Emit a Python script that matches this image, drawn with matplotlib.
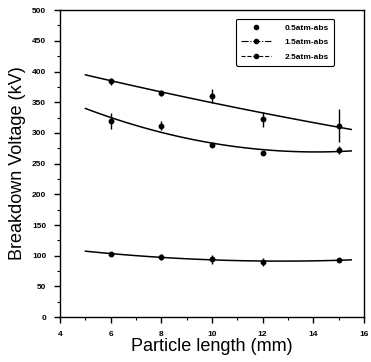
import matplotlib
matplotlib.use("Agg")
import matplotlib.pyplot as plt
import numpy as np
from matplotlib.lines import Line2D

plt.rcParams['font.family'] = ['Liberation Sans', 'DejaVu Sans']

length_mm = [6, 8, 10, 12, 15]
v_05 = [103, 98, 94, 90, 93]
e_05 = [3, 5, 7, 7, 3]
v_15 = [320, 312, 280, 268, 272]
e_15 = [13, 7, 3, 3, 7]
v_25 = [384, 365, 360, 322, 312]
e_25 = [6, 5, 12, 12, 27]
labels = ["0.5atm-abs", "1.5atm-abs", "2.5atm-abs"]

fig = plt.figure(figsize=(3.71, 3.62), dpi=100)
ax = fig.add_axes([0.162, 0.124, 0.819, 0.848])

x = np.array(length_mm, dtype=float)
xfit = np.linspace(5, 15.5, 100)
for vals, errs in [(v_05, e_05), (v_15, e_15), (v_25, e_25)]:
    ax.errorbar(x, vals, yerr=errs, fmt='o', color='black', ms=3.2,
                elinewidth=1.0, capsize=0)
    coef = np.polyfit(x, vals, 2)
    ax.plot(xfit, np.polyval(coef, xfit), color='black', lw=1.1)

ax.set_xlim(4, 16)
ax.set_ylim(0, 500)
ax.set_xticks(np.arange(4, 17, 2))
ax.set_xticks(np.arange(5, 16, 2), minor=True)
ax.set_yticks(np.arange(0, 501, 50))
ax.set_yticks(np.arange(25, 500, 50), minor=True)
ax.tick_params(which='major', direction='out', length=4, width=1.0,
               labelsize=6, pad=6)
ax.tick_params(which='minor', direction='out', length=2.5, width=0.8)
for lab in ax.get_xticklabels() + ax.get_yticklabels():
    lab.set_fontweight('bold')
for s in ax.spines.values():
    s.set_linewidth(1.0)

ax.set_xlabel("Particle length (mm)", fontsize=13, labelpad=0)
ax.set_ylabel("Breakdown Voltage (kV)", fontsize=13, labelpad=4)

handles = [
    Line2D([], [], color='black', marker='o', ms=3, ls='none'),
    Line2D([], [], color='black', marker='o', ms=3, ls='-.', lw=0.8),
    Line2D([], [], color='black', marker='o', ms=3, ls='--', lw=0.8),
]
leg = ax.legend(handles, labels, loc='upper right',
                bbox_to_anchor=(0.9, 0.972),
                prop={'weight': 'bold', 'size': 6},
                handlelength=3.6, handletextpad=1.6, labelspacing=0.8,
                borderpad=0.6, borderaxespad=0,
                fancybox=True, edgecolor='black', framealpha=1)
leg.get_frame().set_linewidth(0.8)

fig.savefig("out.png", dpi=100)
